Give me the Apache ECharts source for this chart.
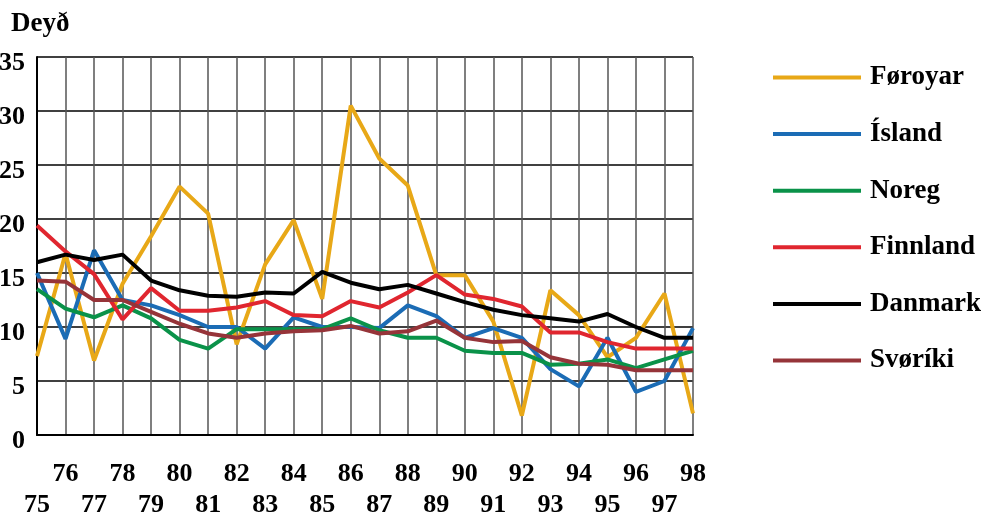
<!DOCTYPE html>
<html>
<head>
<meta charset="utf-8">
<script src="https://cdn.jsdelivr.net/npm/echarts@6/dist/echarts.min.js"></script>
<style>html,body{margin:0;padding:0;background:#fff}#c{width:987px;height:517px}</style>
</head>
<body>
<div id="c"></div>
<script>
var years = ['75','76','77','78','79','80','81','82','83','84','85','86','87','88','89','90','91','92','93','94','95','96','97','98'];
var yTicks = [0, 5, 10, 15, 20, 25, 30, 35];
var seriesNames = ['Føroyar', 'Ísland', 'Noreg', 'Finnland', 'Danmark', 'Svøríki'];
var foroyar  = [7.3, 16.8, 6.9, 14.0, 18.4, 23.0, 20.5, 8.4, 15.8, 19.9, 12.6, 30.5, 25.6, 23.1, 14.8, 14.8, 10.5, 1.8, 13.4, 11.1, 7.2, 9.0, 13.1, 2.0];
var island   = [15.0, 8.9, 17.1, 12.5, 12.0, 11.1, 10.0, 10.0, 8.0, 10.9, 10.0, 10.0, 9.9, 12.0, 11.0, 9.0, 9.9, 9.0, 6.1, 4.5, 9.0, 4.0, 5.0, 9.9];
var noreg    = [13.5, 11.7, 10.9, 12.0, 10.8, 8.8, 8.0, 9.8, 9.8, 9.8, 9.8, 10.8, 9.7, 9.0, 9.0, 7.8, 7.6, 7.6, 6.5, 6.6, 7.0, 6.2, 7.0, 7.8];
var finnland = [19.4, 17.0, 14.9, 10.7, 13.6, 11.5, 11.5, 11.8, 12.4, 11.1, 11.0, 12.4, 11.8, 13.2, 14.8, 13.0, 12.6, 11.9, 9.5, 9.5, 8.6, 8.0, 8.0, 8.0];
var danmark  = [16.0, 16.7, 16.2, 16.7, 14.3, 13.4, 12.9, 12.8, 13.2, 13.1, 15.1, 14.1, 13.5, 13.9, 13.1, 12.3, 11.6, 11.1, 10.8, 10.5, 11.2, 10.0, 9.0, 9.0];
var svoriki  = [14.3, 14.2, 12.5, 12.5, 11.4, 10.3, 9.4, 9.0, 9.4, 9.6, 9.7, 10.1, 9.4, 9.6, 10.6, 9.0, 8.6, 8.7, 7.2, 6.6, 6.5, 6.0, 6.0, 6.0];
var colors = ['#E8A817', '#1B6CB5', '#0A9249', '#E0262F', '#000000', '#963439'];
var allData = [foroyar, island, noreg, finnland, danmark, svoriki];

var font = '"Liberation Serif", "Times New Roman", serif';
var chart = echarts.init(document.getElementById('c'), null, {renderer: 'canvas'});
var series = seriesNames.map(function (n, k) {
  return {
    name: n, type: 'line', data: allData[k], symbol: 'none',
    lineStyle: {width: 4, color: colors[k]}, itemStyle: {color: colors[k]},
    z: 10 + k
  };
});
chart.setOption({
  animation: false,
  title: {
    text: 'Deyð', left: 11, top: 11, padding: 0,
    textStyle: {fontFamily: font, fontWeight: 'bold', fontSize: 27, color: '#000'}
  },
  grid: {left: 37, right: 294, top: 57, bottom: 82, containLabel: false, outerBoundsMode: 'none'},
  legend: {
    orient: 'vertical', left: 773, top: 64, padding: 0,
    icon: 'rect', itemWidth: 88, itemHeight: 4, itemGap: 29.6,
    data: seriesNames,
    textStyle: {fontFamily: font, fontWeight: 'bold', fontSize: 27, color: '#000', lineHeight: 27, padding: [0, 0, 0, 4]}
  },
  xAxis: {
    type: 'category', data: years, boundaryGap: false,
    axisLine: {show: true, lineStyle: {color: '#000', width: 2}},
    axisTick: {show: false},
    splitLine: {show: true, lineStyle: {color: '#555', width: 1.5}},
    axisLabel: {
      interval: 0, margin: 24, fontFamily: font, fontWeight: 'bold', fontSize: 26, color: '#000', lineHeight: 31,
      formatter: function (v, i) { return (i % 2 === 0) ? '\n' + v : v; }
    }
  },
  yAxis: {
    type: 'value', min: yTicks[0], max: yTicks[yTicks.length - 1], interval: 5,
    axisLine: {show: true, lineStyle: {color: '#000', width: 2}},
    axisTick: {show: false},
    splitLine: {show: true, lineStyle: {color: '#000', width: 1.5}},
    axisLabel: {
      margin: 12, color: '#000',
      formatter: function (v) { return '{a|' + v + '}'; },
      rich: {a: {fontFamily: font, fontWeight: 'bold', fontSize: 26, color: '#000', padding: [13, 0, 0, 0]}}
    }
  },
  series: series
});
</script>
</body>
</html>
